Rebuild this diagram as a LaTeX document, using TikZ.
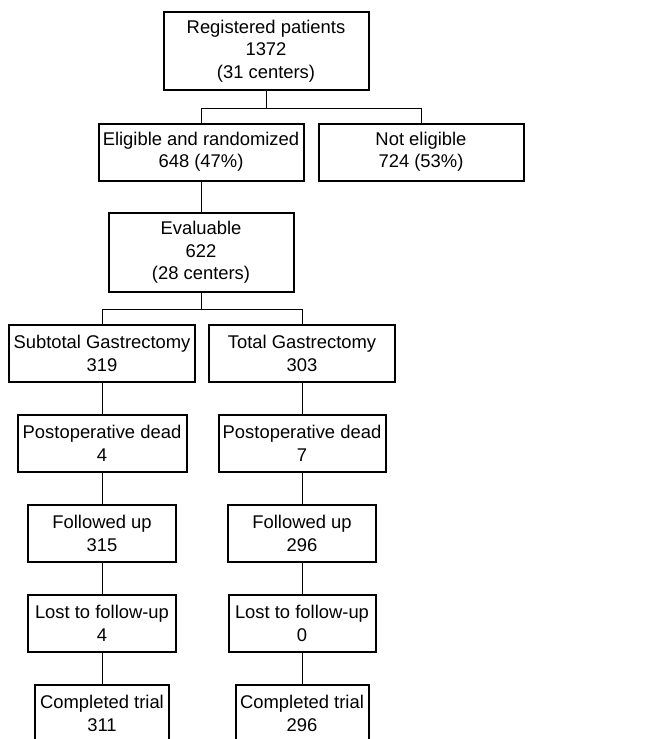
\documentclass[tikz,border=0pt]{standalone}
\usepackage{fontspec}
\setmainfont{Liberation Sans}
\usetikzlibrary{positioning, calc}

\begin{document}
\begin{tikzpicture}[x=0.5pt, y=-0.5pt, node distance=45pt]
        \tikzstyle{stage} = [rectangle, draw=black, line width=1pt, inner sep=0pt, align=center, minimum height=28.5pt, font=\fontsize{9.2}{11.2}\selectfont]
        \tikzstyle{link} = [draw=black, line width=0.5pt]
        \useasboundingbox (0,0) rectangle (645,739);

        \node[stage, minimum width=102.5pt, minimum height=39pt] (registered) at (266,51) {Registered patients\\1372\\(31 centers)};
        \node[stage, minimum width=102.5pt, below of=registered, xshift=-32.5pt, yshift=-5.5pt] (eligible) {Eligible and randomized\\648 (47\%)};
        \node[stage, minimum width=102.5pt, right of=eligible, xshift=65pt] (notEligible) {Not eligible\\724 (53\%)};

        \node[stage, minimum width=92.5pt, minimum height=39.5pt, below of=eligible, yshift=-5.25pt] (evaluable) {Evaluable\\622\\(28 centers)};

        \node[stage, minimum width=93pt, below of=evaluable, xshift=-49.5pt, yshift=-5.5pt] (subtotal) {Subtotal Gastrectomy\\319};
        \node[stage, minimum width=93pt, right of=subtotal, xshift=55pt] (total) {Total Gastrectomy\\303};

        \node[stage, minimum width=84.5pt, below of=subtotal] (subDead) {Postoperative dead\\4};
        \node[stage, minimum width=74pt, below of=subDead] (subFollowed) {Followed up\\315};
        \node[stage, minimum width=74pt, below of=subFollowed] (subLost) {Lost to follow-up\\4};
        \node[stage, minimum width=67pt, below of=subLost] (subCompleted) {Completed trial\\311};

        \node[stage, minimum width=83.5pt, below of=total] (totDead) {Postoperative dead\\7};
        \node[stage, minimum width=74pt, below of=totDead] (totFollowed) {Followed up\\296};
        \node[stage, minimum width=73.5pt, below of=totFollowed] (totLost) {Lost to follow-up\\0};
        \node[stage, minimum width=66.5pt, below of=totLost] (totCompleted) {Completed trial\\296};

        %split registered
        \coordinate (splitReg) at ($(registered.south)+(0,-8.5pt)$);
        \draw[link] (registered.south) -- (splitReg);
        \draw[link] (splitReg) -| (eligible.north);
        \draw[link] (splitReg) -| (notEligible.north);

        \draw[link] (eligible) -- (evaluable);

        %split evaluable
        \coordinate (splitEval) at ($(evaluable.south)+(0,-8pt)$);
        \draw[link] (evaluable.south) -- (splitEval);
        \draw[link] (splitEval) -| (subtotal.north);
        \draw[link] (splitEval) -| (total.north);

        %subtotal arm
        \draw[link] (subtotal) -- (subDead);
        \draw[link] (subDead) -- (subFollowed);
        \draw[link] (subFollowed) -- (subLost);
        \draw[link] (subLost) -- (subCompleted);

        %total arm
        \draw[link] (total) -- (totDead);
        \draw[link] (totDead) -- (totFollowed);
        \draw[link] (totFollowed) -- (totLost);
        \draw[link] (totLost) -- (totCompleted);
    \end{tikzpicture}
\end{document}
